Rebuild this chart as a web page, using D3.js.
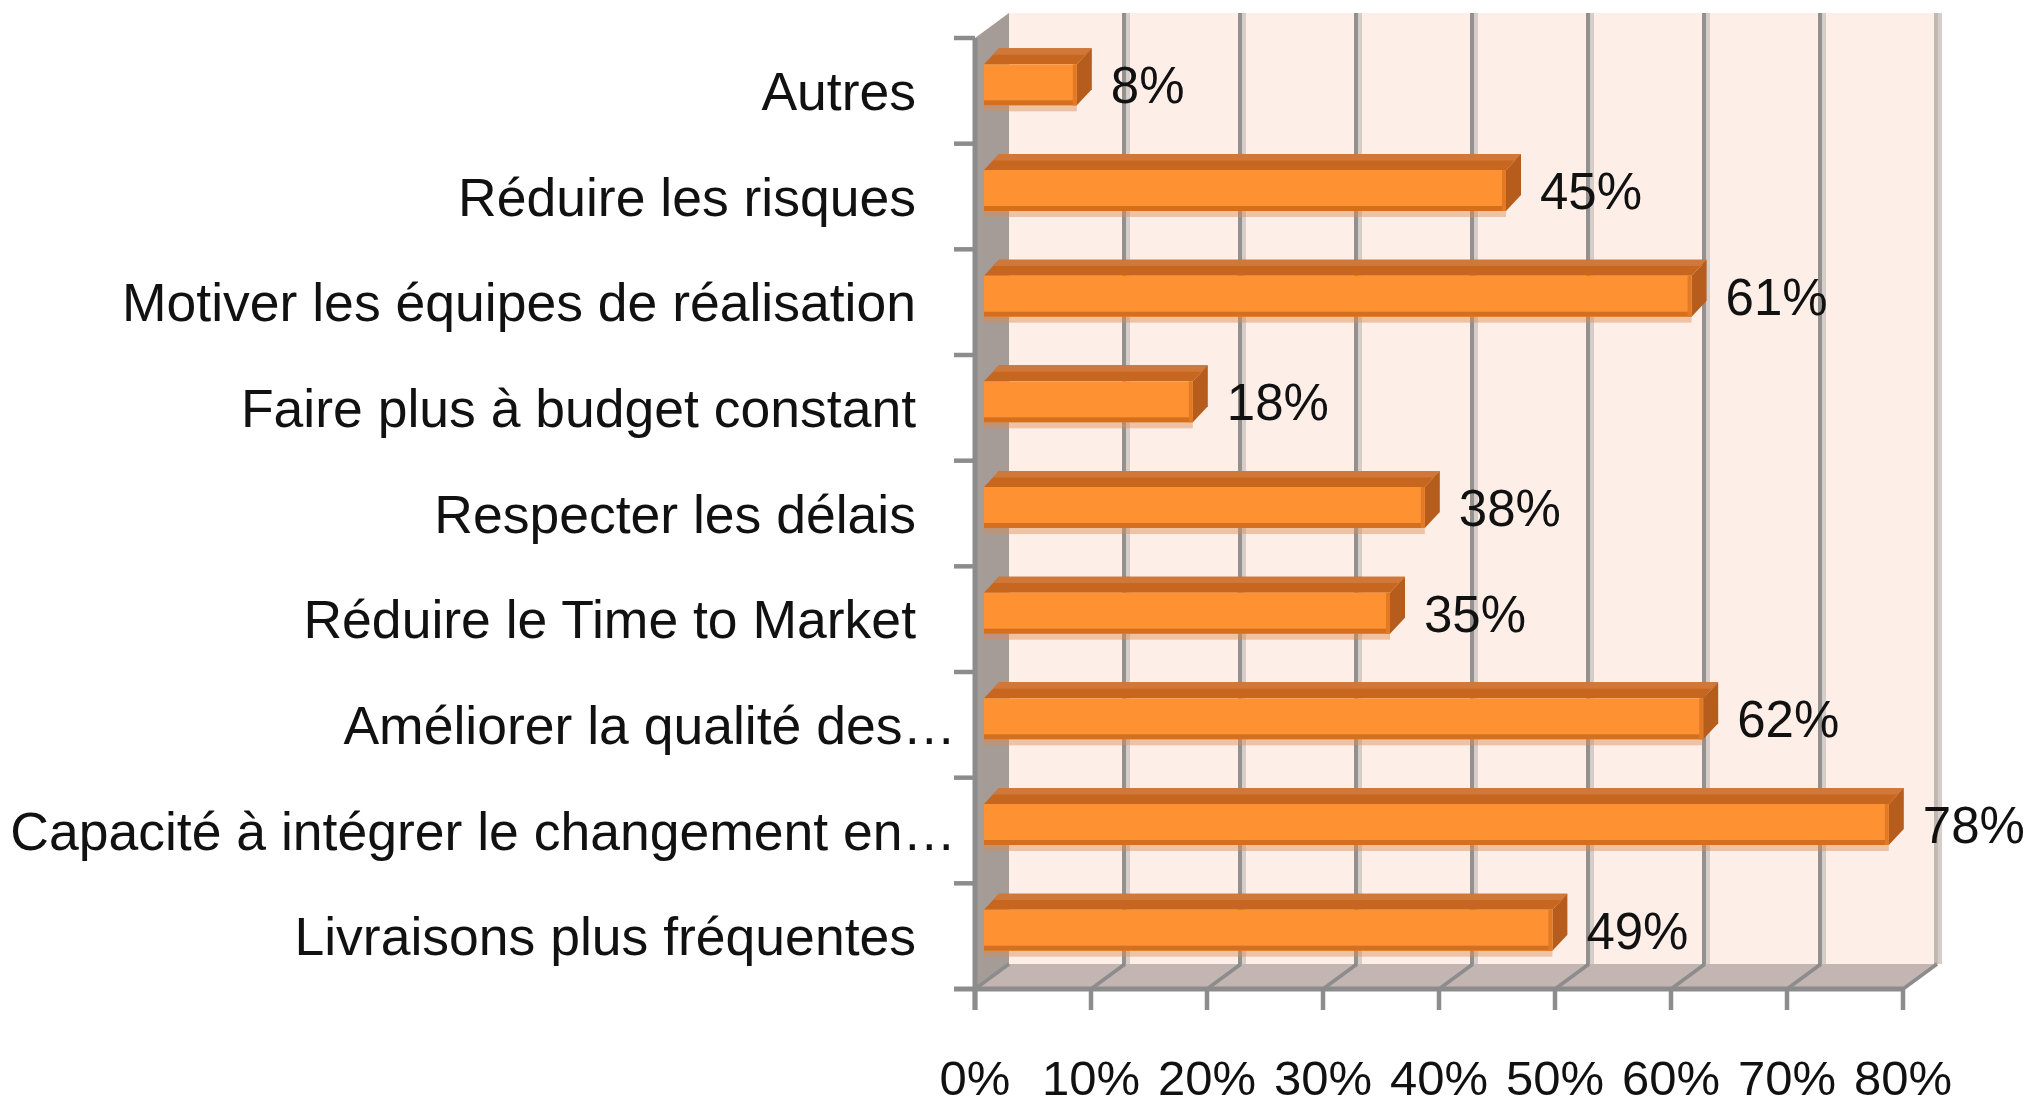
<!DOCTYPE html>
<html>
<head>
<meta charset="utf-8">
<script src="https://cdn.jsdelivr.net/npm/d3@7"></script>
<style>
  html, body { margin: 0; padding: 0; background: #ffffff; }
  svg { display: block; }
  text { font-family: "Liberation Sans", Arial, sans-serif; fill: #111; }
</style>
</head>
<body>
<svg id="chart" width="2039" height="1107"></svg>
<script>
// ---- data (bottom category first, as in the source chart) ----
const categories = [
  "Livraisons plus fréquentes",
  "Capacité à intégrer le changement en…",
  "Améliorer la qualité des…",
  "Réduire le Time to Market",
  "Respecter les délais",
  "Faire plus à budget constant",
  "Motiver les équipes de réalisation",
  "Réduire les risques",
  "Autres"
];
const values = [49, 78, 62, 35, 38, 18, 61, 45, 8];
const valueLabels = ["49%", "78%", "62%", "35%", "38%", "18%", "61%", "45%", "8%"];
const tickValues = [0, 10, 20, 30, 40, 50, 60, 70, 80];
const tickLabels = ["0%", "10%", "20%", "30%", "40%", "50%", "60%", "70%", "80%"];

(function () {
// ---- layout ----
const svg = d3.select("#chart");
const pLeft = 975, pRight = 1903, pTop = 38, pBottom = 989;
const DX = 34, DY = -25;            // depth of the chart box
const BX = 9, BY = -6;              // offset of the bars inside the box depth
const bdx = 15, bdy = -16;          // depth of each bar
const barH = 41;

const x = d3.scaleLinear().domain([0, 80]).range([pLeft, pRight]);
const y = d3.scaleBand().domain(categories).range([pBottom, pTop]).paddingInner(0);

const axisColor = "#8c8c8c";

// back wall
svg.append("rect")
  .attr("x", pLeft + DX).attr("y", pTop + DY)
  .attr("width", pRight - pLeft).attr("height", pBottom - pTop)
  .attr("fill", "#fdefe8");

// left wall
svg.append("polygon")
  .attr("points", [[pLeft, pTop], [pLeft, pBottom], [pLeft + DX, pBottom + DY], [pLeft + DX, pTop + DY]].join(" "))
  .attr("fill", "#a59c98");

// floor
svg.append("polygon")
  .attr("points", [[pLeft, pBottom], [pRight, pBottom], [pRight + DX, pBottom + DY], [pLeft + DX, pBottom + DY]].join(" "))
  .attr("fill", "#c3b5b1");

// gridlines on back wall + diagonals on floor
const grid = svg.append("g");
tickValues.forEach(t => {
  const gx = x(t) + DX;
  if (t > 0) {
    grid.append("line")
      .attr("x1", gx + 3).attr("x2", gx + 3)
      .attr("y1", pTop + DY).attr("y2", pBottom + DY)
      .attr("stroke", "#d6ccc8").attr("stroke-width", 4);
    grid.append("line")
      .attr("x1", gx - 1).attr("x2", gx - 1)
      .attr("y1", pTop + DY).attr("y2", pBottom + DY)
      .attr("stroke", t === 80 ? "#c0b8b3" : "#939090").attr("stroke-width", 4);
  }
  grid.append("line")
    .attr("x1", gx).attr("y1", pBottom + DY)
    .attr("x2", x(t)).attr("y2", pBottom)
    .attr("stroke", axisColor).attr("stroke-width", 3.5);
});

// bars
const bars = svg.append("g");
categories.forEach((c, i) => {
  const v = values[i];
  const x0 = x(0) + BX, x1 = x(v) + BX;
  const yc = y(c) + y.bandwidth() / 2 + BY;
  const y0 = yc - barH / 2, y1 = yc + barH / 2;
  const g = bars.append("g");
  // soft edge below
  g.append("rect")
    .attr("x", x0).attr("y", y1).attr("width", x1 - x0).attr("height", 6)
    .attr("fill", "#d98b55").attr("opacity", 0.45);
  // top face
  g.append("polygon")
    .attr("points", [[x0, y0], [x1, y0], [x1 + bdx, y0 + bdy], [x0 + bdx, y0 + bdy]].join(" "))
    .attr("fill", "#c6661f");
  g.append("polygon")
    .attr("points", [[x0 + bdx * 0.6, y0 + bdy * 0.6], [x1 + bdx * 0.6, y0 + bdy * 0.6], [x1 + bdx, y0 + bdy], [x0 + bdx, y0 + bdy]].join(" "))
    .attr("fill", "#d0783a");
  // side face
  g.append("polygon")
    .attr("points", [[x1, y0], [x1 + bdx, y0 + bdy], [x1 + bdx, y1 + bdy], [x1, y1]].join(" "))
    .attr("fill", "#b65c1c");
  // front face
  g.append("rect")
    .attr("x", x0).attr("y", y0).attr("width", x1 - x0).attr("height", barH)
    .attr("fill", "#fe9233");
  g.append("rect")
    .attr("x", x0).attr("y", y1 - 5).attr("width", x1 - x0).attr("height", 5)
    .attr("fill", "#d46f1f");
  g.append("rect")
    .attr("x", x1 - 4).attr("y", y0).attr("width", 4).attr("height", barH)
    .attr("fill", "#e27a25");
  // value label
  svg.append("text")
    .attr("x", x1 + 34).attr("y", yc)
    .attr("dy", "0.36em")
    .attr("font-size", 51)
    .text(valueLabels[i]);
});

// axes
const axes = svg.append("g");
axes.append("line")
  .attr("x1", pLeft).attr("x2", pLeft).attr("y1", pTop).attr("y2", pBottom + 21)
  .attr("stroke", axisColor).attr("stroke-width", 5);
axes.append("line")
  .attr("x1", pLeft - 21).attr("x2", pRight).attr("y1", pBottom).attr("y2", pBottom)
  .attr("stroke", axisColor).attr("stroke-width", 5);
// left ticks at band boundaries
categories.forEach(c => {
  axes.append("line")
    .attr("x1", pLeft - 21).attr("x2", pLeft).attr("y1", y(c)).attr("y2", y(c))
    .attr("stroke", axisColor).attr("stroke-width", 4.5);
});
// bottom ticks
tickValues.forEach((t, i) => {
  axes.append("line")
    .attr("x1", x(t)).attr("x2", x(t)).attr("y1", pBottom).attr("y2", pBottom + 21)
    .attr("stroke", axisColor).attr("stroke-width", 4.5);
  axes.append("text")
    .attr("x", x(t)).attr("y", 1095)
    .attr("text-anchor", "middle")
    .attr("font-size", 49)
    .text(tickLabels[i]);
});

// category labels
categories.forEach(c => {
  const truncated = c.endsWith("…");
  svg.append("text")
    .attr("x", truncated ? pLeft - 19 : pLeft - 59)
    .attr("y", y(c) + y.bandwidth() / 2)
    .attr("dy", "0.36em")
    .attr("text-anchor", "end")
    .attr("font-size", 53.5)
    .text(c);
});
})();
</script>
</body>
</html>
